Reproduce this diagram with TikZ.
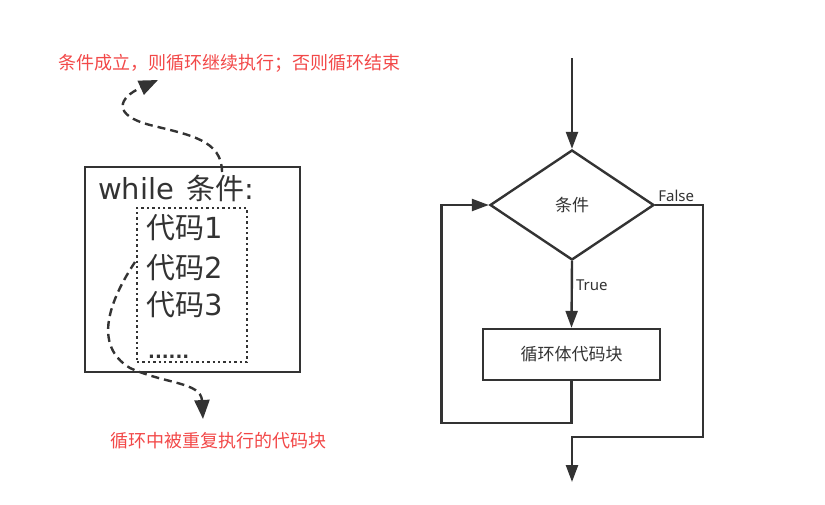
\documentclass[tikz,border=0pt]{standalone}
\usepackage{fontspec}
\setmainfont{DejaVu Sans}
\newfontfamily\cjk{Noto Sans CJK SC}
\newfontfamily\lat{Noto Sans}
\usetikzlibrary{arrows.meta,shapes.geometric}
\definecolor{ink}{RGB}{51,51,51}
\definecolor{note}{RGB}{242,72,72}
\tikzset{
  edge/.style={draw=ink, line width=2.4pt},
  arr/.style={edge, -{Triangle[length=17pt,width=12pt]}},
  dasharr/.style={draw=ink, line width=2.4pt, dash pattern=on 8pt off 5pt, -{Triangle[length=19pt,width=15pt]}},
  notetext/.style={text=note, inner sep=0pt, font=\cjk\fontsize{18}{20}\selectfont},
  codetext/.style={text=ink, inner sep=0pt, anchor=west, font=\fontsize{29}{32}\selectfont},
  flowtext/.style={text=ink, font=\cjk\fontsize{17}{20}\selectfont},
  labeltext/.style={text=ink, font=\lat\fontsize{15}{18}\selectfont},
}
\begin{document}
\begin{tikzpicture}[x=1pt,y=-1pt]
\useasboundingbox (0,0) rectangle (825,504);
% left part
\node[notetext] (note1) at (229,63) {条件成立，则循环继续执行；否则循环结束};
\node[notetext] (note2) at (218,441) {循环中被重复执行的代码块};
\node[draw=ink, line width=2.4pt, minimum width=215pt, minimum height=205pt, inner sep=0pt] (outer) at (192.5,269.5) {};
\node[draw=ink, line width=2.4pt, dash pattern=on 2.4pt off 3pt, minimum width=110pt, minimum height=154pt, inner sep=0pt] (inner) at (192,285) {};
\node[codetext] (whl) at (98,188) {while\hspace{12pt}{\cjk 条件}:};
\node[codetext] (c1) at (146,228) {{\cjk 代码}1};
\node[codetext] (c2) at (146,268) {{\cjk 代码}2};
\node[codetext] (c3) at (146,305) {{\cjk 代码}3};
\node[text=ink, inner sep=0pt, anchor=base west, font=\bfseries\fontsize{18}{20}\selectfont] (dots) at (148,358) {......};
\coordinate (s1) at (222,172);
\coordinate (e1) at (158,80);
\draw[dasharr] (s1) .. controls (222,140) and (190,135) .. (150,125) .. controls (112,115) and (118,98) .. (e1);
\coordinate (s2) at (135,262);
\coordinate (e2) at (203,419);
\draw[dasharr] (s2) .. controls (110,300) and (92,345) .. (130,368) .. controls (165,384) and (201,382) .. (e2);
% flowchart
\coordinate (top) at (572,58);
\coordinate (out) at (572,482);
\node[shape=diamond, draw=ink, line width=2.4pt, minimum width=164pt, minimum height=110pt, inner sep=0pt, flowtext] (cond) at (572,205) {条件};
\node[draw=ink, line width=2.4pt, minimum width=177pt, minimum height=51pt, inner sep=0pt, flowtext] (body) at (571.5,354.5) {循环体代码块};
\draw[arr] (top) -- (cond.north);
\draw[arr] (cond.south) -- node[labeltext, pos=0.36, right, inner sep=3pt] (tl) {True} (body.north);
\draw[arr] (body.south) -- ++(0,41.5) -- ++(-130,0) |- (cond.west);
\draw[arr] (cond.east) -- node[labeltext, pos=0, anchor=south west, inner sep=2pt] (fl) {False} ++(48,0) -- ++(0,232) -| (out);
\end{tikzpicture}
\end{document}
